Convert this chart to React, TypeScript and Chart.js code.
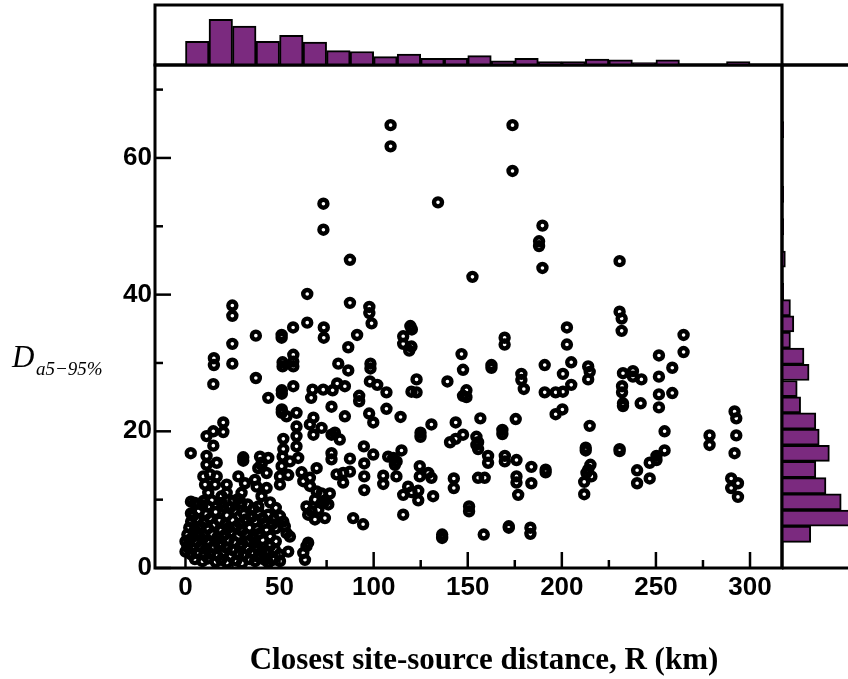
import React, { useEffect, useRef } from 'react';
import { Chart, registerables } from 'chart.js';

Chart.register(...registerables);

const W = 848;
const H = 679;

// axis ranges
const X_MIN = -16.2;
const X_MAX = 317;
const Y_MIN = 0;
const Y_MAX = 73.6;

// tick values
const xMajorTicks = [0, 50, 100, 150, 200, 250, 300];
const xMinorTicks = [25, 75, 125, 175, 225, 275];
const yMajorTicks = [0, 20, 40, 60];
const yMinorTicks = [10, 30, 50, 70];

// top histogram: distance bins of 12.5 km starting at 0
const topBinStart = 0;
const topBinWidth = 12.5;
const topCounts = [28, 54, 46, 28, 35, 27, 17, 16, 10, 13, 8, 8, 11, 5, 8, 4, 4, 7, 6, 3, 6, 0, 0, 4];
const TOP_MAX = 71;

// right histogram: duration bins
const rightBinStart = 3.75;
const rightBinWidth = 2.368;
const rightCounts = [17, 40, 35, 26, 20, 28, 22, 20, 11, 9, 16, 13, 5, 7, 5, 1, 0, 2, 0, 1, 0, 1, 0, 0, 0, 1];
const RIGHT_MAX = 39;

// scatter records: [R (km), D a5-95% (s)]
const highRecords: [number, number][] = [
  [109.0, 64.8], [109.0, 61.7], [173.8, 64.8], [173.8, 58.1], [73.3, 53.3], [73.3, 49.5], [134.2, 53.5],
  [189.7, 50.1], [187.9, 47.8], [187.9, 47.1], [189.7, 43.9], [230.7, 44.9], [87.4, 45.1], [152.5, 42.6],
  [64.7, 40.1], [24.9, 38.4], [24.9, 36.9], [87.4, 38.8], [97.7, 38.2], [97.7, 37.3], [98.9, 35.8],
  [64.7, 35.9], [230.7, 37.5], [231.8, 36.5], [202.7, 35.2], [57.2, 35.2], [73.5, 35.2], [119.5, 35.4],
  [120.3, 34.9],
];

const midRecords: [number, number][] = [
  [37.4, 34.0], [51.1, 34.1], [51.1, 33.7], [73.5, 33.7], [91.2, 34.1], [115.7, 33.9], [115.7, 32.8],
  [118.9, 31.8], [120.1, 32.4], [24.9, 32.8], [15.1, 30.7], [15.1, 29.7], [14.8, 26.9], [24.9, 29.9],
  [37.4, 27.8], [44.0, 24.9], [51.6, 30.1], [51.6, 29.5], [57.3, 31.2], [57.3, 30.2], [57.3, 29.5],
  [57.3, 26.6], [51.2, 26.0], [51.2, 25.5], [51.2, 23.2], [51.2, 22.7], [53.7, 22.2], [59.0, 22.7],
  [86.5, 32.3], [81.2, 29.9], [86.5, 28.9], [98.3, 29.9], [98.3, 29.2], [98.0, 27.3], [101.9, 26.8],
  [106.8, 25.7], [73.2, 26.1], [78.2, 26.0], [80.6, 27.0], [84.7, 26.6], [67.5, 26.1], [66.8, 24.9],
  [77.6, 23.6], [92.3, 25.2], [92.3, 24.4], [84.7, 22.2], [97.6, 22.6], [99.8, 21.3], [106.8, 23.3],
  [114.3, 22.1], [122.8, 27.6], [120.1, 25.8], [122.8, 25.7], [139.2, 27.3], [146.7, 31.3], [147.5, 29.0],
  [149.3, 26.0], [147.5, 25.2], [149.3, 25.0], [162.6, 29.7], [162.6, 29.3], [130.7, 21.0], [143.6, 21.3],
  [156.7, 21.9], [140.6, 18.4], [143.6, 18.9], [147.5, 19.5], [154.6, 19.2], [155.5, 18.4], [155.5, 17.4],
  [160.8, 16.4], [160.8, 15.4], [124.9, 19.8], [124.9, 19.2], [114.8, 17.2], [107.7, 16.3], [112.2, 15.6],
  [110.4, 16.1], [99.8, 16.6], [94.8, 17.8], [87.4, 16.0], [77.6, 16.8], [77.6, 15.9], [82.0, 18.8],
  [79.4, 19.8], [77.6, 19.5], [68.0, 22.0], [66.1, 21.0], [72.3, 20.5], [68.0, 19.5], [52.0, 18.9],
  [52.0, 17.4], [51.6, 16.3], [59.0, 20.7], [59.0, 19.3], [59.0, 17.8], [20.1, 21.3], [14.8, 20.0],
  [11.2, 19.3], [14.8, 17.9], [2.8, 16.8], [11.2, 16.4], [16.6, 15.4], [30.7, 16.2], [30.7, 15.7],
  [39.6, 16.3], [44.0, 16.1], [40.5, 15.4], [20.1, 19.9], [59.9, 16.1], [11.2, 15.1], [55.5, 15.6],
  [154.6, 18.0],
];

const lowRecords: [number, number][] = [
  [124.5, 14.9], [124.5, 13.4], [129.0, 13.9], [130.7, 13.2], [118.3, 11.9], [115.7, 10.7], [120.1, 11.1],
  [123.7, 11.3], [123.7, 9.9], [131.6, 10.5], [115.7, 7.8], [142.6, 13.1], [142.6, 11.7], [150.7, 9.0],
  [150.7, 8.3], [136.4, 4.9], [136.4, 4.4], [111.3, 15.1], [105.1, 13.5], [105.1, 12.3], [112.1, 13.4],
  [95.0, 15.3], [95.0, 13.4], [95.0, 11.4], [87.4, 14.1], [80.3, 13.7], [83.8, 13.9], [83.8, 12.5],
  [89.1, 7.3], [94.4, 6.4], [54.6, 13.6], [61.7, 14.0], [62.6, 12.7], [66.1, 13.2], [69.7, 14.6],
  [66.1, 12.0], [69.7, 11.2], [72.3, 10.9], [76.7, 10.9], [68.8, 10.0], [74.1, 9.8], [75.9, 9.3],
  [64.3, 9.0], [65.2, 7.8], [68.8, 7.1], [74.1, 7.3], [67.0, 8.3], [70.6, 8.5], [72.3, 9.5], [64.3, 3.2],
  [62.6, 2.2], [63.5, 1.2], [65.2, 3.7], [54.6, 2.4], [50.2, 1.0], [53.7, 5.1], [55.5, 4.6], [50.2, 7.6],
  [52.0, 6.8], [52.8, 6.1], [43.1, 5.6], [42.2, 6.6], [44.9, 3.2], [47.5, 2.7], [46.6, 1.2], [42.2, 1.2],
  [40.4, 2.4], [38.7, 9.0], [40.4, 10.5], [37.8, 11.9], [43.1, 11.7], [31.6, 12.4], [28.1, 13.4],
  [29.8, 11.0], [36.9, 12.9], [38.7, 14.6], [40.4, 15.1], [43.1, 13.9], [50.2, 13.4], [50.2, 12.2],
  [51.1, 14.9], [9.5, 13.4], [13.0, 13.7], [16.6, 13.4], [10.4, 12.2], [15.7, 12.2], [21.9, 12.2],
  [21.9, 11.0], [19.2, 10.5], [12.1, 11.0], [9.5, 9.8], [12.1, 9.0], [19.2, 9.5], [25.4, 9.8], [29.8, 9.5],
  [2.9, 9.7], [2.9, 8.0], [0.0, 3.9], [0.0, 2.4],
];

const nearRecords: [number, number][] = [
  [5, 9.5], [9, 9.2], [14, 9.9], [20, 9.0], [24, 8.9], [28, 10.1], [33, 9.3], [36, 8.7], [45, 9.6], [48, 8.8],
  [4, 7.6], [7, 8.3], [11, 7.9], [16, 8.2], [22, 7.7], [26, 8.4], [31, 7.9], [35, 7.4], [39, 8.1], [44, 7.8], [47, 7.2],
  [3, 6.8], [6, 7.1], [10, 6.6], [13, 7.2], [18, 6.9], [21, 6.4], [25, 7.0], [29, 6.5], [32, 7.1], [37, 6.8], [41, 7.3], [46, 6.4],
  [2, 5.9], [5, 5.6], [8, 6.1], [12, 5.8], [15, 6.3], [19, 5.5], [23, 5.9], [27, 6.1], [30, 5.4], [34, 5.9], [38, 5.7], [48, 5.8],
  [1, 4.9], [4, 4.6], [7, 5.1], [10, 4.8], [14, 5.0], [17, 4.5], [21, 4.9], [24, 5.2], [28, 4.7], [32, 4.9], [36, 4.4], [39, 5.0], [45, 4.6],
  [2, 4.1], [6, 3.8], [9, 4.2], [12, 3.7], [16, 4.0], [19, 3.6], [23, 4.1], [26, 3.8], [30, 3.5], [34, 4.0], [37, 3.7], [41, 4.1], [48, 3.9],
  [1, 3.1], [4, 2.9], [8, 3.2], [11, 2.8], [14, 3.0], [18, 3.3], [22, 2.9], [25, 2.6], [29, 3.1], [33, 2.8], [38, 3.0], [43, 2.5],
  [3, 2.0], [6, 2.2], [10, 1.9], [13, 2.1], [17, 1.8], [20, 2.3], [24, 1.7], [28, 2.0], [31, 1.9], [35, 2.2], [39, 1.6], [50, 2.0],
  [5, 1.3], [9, 1.0], [12, 1.4], [16, 0.9], [19, 1.2], [22, 0.8], [27, 1.1], [30, 0.7], [34, 1.3], [37, 1.0], [44, 0.8],
];

const farRecords: [number, number][] = [
  [231.8, 34.7], [264.7, 34.1], [264.7, 31.6], [202.7, 32.7], [169.6, 33.7], [169.6, 32.7], [178.5, 28.4],
  [178.5, 27.5], [179.8, 26.2], [190.9, 29.7], [190.9, 25.7], [196.7, 25.7], [200.6, 25.8], [205.0, 26.8],
  [200.6, 28.4], [205.0, 30.1], [196.7, 22.5], [200.3, 23.2], [214.0, 29.5], [214.8, 28.7], [214.0, 27.6],
  [214.8, 20.8], [232.5, 28.5], [237.8, 28.8], [237.8, 28.0], [242.3, 27.6], [232.0, 26.6], [232.0, 25.7],
  [232.5, 24.1], [232.5, 23.7], [241.9, 24.1], [251.6, 31.1], [251.6, 28.0], [251.6, 25.4], [251.6, 23.5],
  [258.7, 29.3], [258.7, 25.6], [175.5, 21.8], [168.4, 20.2], [168.4, 19.6], [169.7, 16.4], [169.7, 15.6],
  [175.9, 15.8], [155.5, 13.2], [159.0, 13.2], [175.9, 13.4], [175.9, 12.5], [176.8, 10.7], [183.8, 14.8],
  [183.8, 12.4], [191.4, 14.4], [191.4, 14.0], [158.5, 4.9], [171.8, 6.1], [171.8, 5.9], [183.3, 5.9],
  [183.3, 5.0], [212.7, 17.6], [212.7, 17.2], [215.2, 15.1], [214.0, 14.4], [215.7, 13.4], [213.1, 13.9],
  [211.9, 12.6], [211.9, 10.8], [230.7, 17.4], [230.7, 17.1], [254.6, 20.0], [254.6, 17.2], [250.3, 16.4],
  [246.7, 15.4], [250.3, 15.8], [240.0, 14.3], [240.0, 12.4], [246.7, 13.1], [278.5, 19.4], [278.5, 18.0],
  [291.8, 22.9], [292.7, 21.9], [292.7, 19.4], [291.8, 16.8], [290.0, 13.1], [293.6, 12.4], [290.0, 11.7],
  [293.6, 10.4],
];

const xTitle = 'Closest site-source distance, R (km)';
const yTitleMain = 'D';
const yTitleSub = 'a5\u221295%';

const PURPLE = '#7b2a7f';
const TICK_FONT = { family: '"Liberation Sans", Arial, sans-serif', size: 26, weight: 'bold' as const };

const allRecords = [...highRecords, ...midRecords, ...lowRecords, ...nearRecords, ...farRecords];

function line(ctx: CanvasRenderingContext2D, x1: number, y1: number, x2: number, y2: number) {
  ctx.beginPath();
  ctx.moveTo(x1, y1);
  ctx.lineTo(x2, y2);
  ctx.stroke();
}

const mainFrame = {
  id: 'mainFrame',
  beforeDatasetsDraw(chart: any) {
    const { ctx, chartArea: a, scales } = chart;
    const x = scales.x;
    const y = scales.y;
    ctx.save();
    ctx.strokeStyle = '#000';
    ctx.lineWidth = 2.5;
    xMajorTicks.forEach((v) => { const p = x.getPixelForValue(v); line(ctx, p, a.bottom, p, a.bottom - 16); });
    xMinorTicks.forEach((v) => { const p = x.getPixelForValue(v); line(ctx, p, a.bottom, p, a.bottom - 8); });
    yMajorTicks.forEach((v) => { const p = y.getPixelForValue(v); line(ctx, a.left, p, a.left + 16, p); });
    yMinorTicks.forEach((v) => { const p = y.getPixelForValue(v); line(ctx, a.left, p, a.left + 8, p); });
    ctx.lineWidth = 3;
    ctx.strokeRect(a.left, a.top, a.right - a.left, a.bottom - a.top);
    ctx.restore();
  },
  afterDraw(chart: any) {
    const { ctx } = chart;
    ctx.save();
    ctx.fillStyle = '#000';
    ctx.textBaseline = 'alphabetic';
    ctx.textAlign = 'center';
    ctx.font = 'bold 31px "Liberation Serif", "Times New Roman", serif';
    ctx.fillText(xTitle, 484, 669);
    ctx.textAlign = 'left';
    ctx.font = 'italic 31px "Liberation Serif", "Times New Roman", serif';
    ctx.fillText(yTitleMain, 12, 367);
    ctx.font = 'italic 19px "Liberation Serif", "Times New Roman", serif';
    ctx.fillText(yTitleSub, 36, 375);
    ctx.restore();
  },
};

const topFrame = {
  id: 'topFrame',
  afterDraw(chart: any) {
    const { ctx, chartArea: a } = chart;
    ctx.save();
    ctx.strokeStyle = '#000';
    ctx.lineWidth = 3;
    ctx.strokeRect(a.left, a.top, a.right - a.left, a.bottom - a.top);
    line(ctx, a.right, a.bottom, W, a.bottom);
    ctx.restore();
  },
};

const rightFrame = {
  id: 'rightFrame',
  afterDraw(chart: any) {
    const { ctx, chartArea: a } = chart;
    ctx.save();
    ctx.strokeStyle = '#000';
    ctx.lineWidth = 3;
    line(ctx, a.left, a.top, W, a.top);
    line(ctx, a.left, a.bottom, W, a.bottom);
    line(ctx, a.left, a.top, a.left, a.bottom);
    ctx.restore();
  },
};

export default function App() {
  const mainRef = useRef<HTMLCanvasElement>(null);
  const topRef = useRef<HTMLCanvasElement>(null);
  const rightRef = useRef<HTMLCanvasElement>(null);

  useEffect(() => {
    const main = new Chart(mainRef.current as HTMLCanvasElement, {
      type: 'scatter',
      data: {
        datasets: [
          {
            data: allRecords.map(([r, d]) => ({ x: r, y: d })),
            pointRadius: 4,
            pointBorderWidth: 4.4,
            pointBorderColor: '#000',
            pointBackgroundColor: 'rgba(0,0,0,0)',
            showLine: false,
          } as any,
        ],
      },
      options: {
        responsive: false,
        animation: false,
        devicePixelRatio: 1,
        layout: { padding: { left: 0, top: 65, right: W - 782, bottom: 0 } },
        plugins: { legend: { display: false }, tooltip: { enabled: false } },
        scales: {
          x: {
            type: 'linear',
            min: X_MIN,
            max: X_MAX,
            afterFit: (s: any) => { s.height = H - 568; },
            afterBuildTicks: (s: any) => { s.ticks = xMajorTicks.map((v) => ({ value: v })); },
            grid: { display: false, drawTicks: false },
            border: { display: false },
            ticks: { font: TICK_FONT, color: '#000', padding: 4, maxRotation: 0, autoSkip: false },
          },
          y: {
            type: 'linear',
            min: Y_MIN,
            max: Y_MAX,
            afterFit: (s: any) => { s.width = 155; },
            afterBuildTicks: (s: any) => { s.ticks = yMajorTicks.map((v) => ({ value: v })); },
            grid: { display: false, drawTicks: false },
            border: { display: false },
            ticks: { font: TICK_FONT, color: '#000', padding: 3, autoSkip: false },
          },
        },
      },
      plugins: [mainFrame],
    } as any);

    const top = new Chart(topRef.current as HTMLCanvasElement, {
      type: 'bar',
      data: {
        datasets: [
          {
            data: topCounts.map((n, i) => ({ x: topBinStart + topBinWidth * (i + 0.5), y: n })),
            backgroundColor: PURPLE,
            borderColor: '#000',
            borderWidth: 2,
            categoryPercentage: 1,
            barPercentage: 1,
          } as any,
        ],
      },
      options: {
        responsive: false,
        animation: false,
        devicePixelRatio: 1,
        layout: { padding: { left: 155, right: W - 782, top: 5, bottom: H - 65 } },
        plugins: { legend: { display: false }, tooltip: { enabled: false } },
        scales: {
          x: { type: 'linear', min: X_MIN, max: X_MAX, offset: false, display: false },
          y: { type: 'linear', min: 0, max: TOP_MAX, offset: false, display: false },
        },
      },
      plugins: [topFrame],
    } as any);

    const right = new Chart(rightRef.current as HTMLCanvasElement, {
      type: 'bar',
      data: {
        datasets: [
          {
            data: rightCounts.map((n, i) => ({ x: n, y: rightBinStart + rightBinWidth * (i + 0.5) })),
            backgroundColor: PURPLE,
            borderColor: '#000',
            borderWidth: 2,
            categoryPercentage: 1,
            barPercentage: 1,
          } as any,
        ],
      },
      options: {
        indexAxis: 'y',
        responsive: false,
        animation: false,
        devicePixelRatio: 1,
        layout: { padding: { left: 782, right: 0, top: 65, bottom: H - 568 } },
        plugins: { legend: { display: false }, tooltip: { enabled: false } },
        scales: {
          x: { type: 'linear', min: 0, max: RIGHT_MAX, offset: false, display: false },
          y: { type: 'linear', min: Y_MIN, max: Y_MAX, offset: false, display: false },
        },
      },
      plugins: [rightFrame],
    } as any);

    return () => {
      main.destroy();
      top.destroy();
      right.destroy();
    };
  }, []);

  const cs: React.CSSProperties = { position: 'absolute', left: 0, top: 0 };
  return (
    <div style={{ position: 'fixed', left: 0, top: 0, width: W, height: H, background: '#fff', overflow: 'hidden' }}>
      <canvas ref={mainRef} width={W} height={H} style={cs} />
      <canvas ref={topRef} width={W} height={H} style={cs} />
      <canvas ref={rightRef} width={W} height={H} style={cs} />
    </div>
  );
}
